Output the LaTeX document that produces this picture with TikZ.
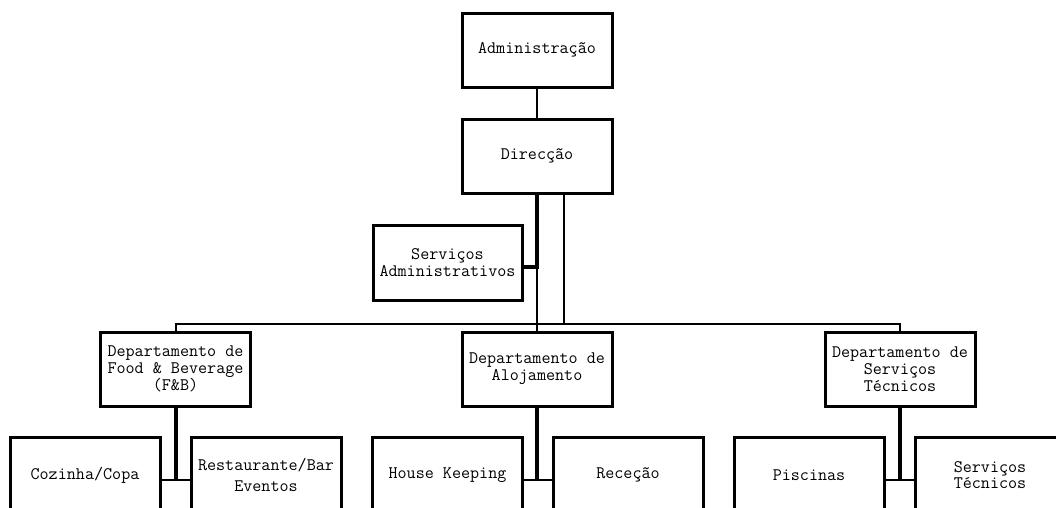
\documentclass[tikz,border=0pt]{standalone}
\usepackage{fontspec}
\begin{document}
\begin{tikzpicture}[x=0.75pt,y=-0.75pt,
  box/.style={draw=black,line width=2.25pt,fill=white,minimum width=112.5pt,minimum height=55.5pt,inner sep=0pt,align=center,font=\ttfamily\fontsize{13.2}{12.6}\selectfont},
  cbox/.style={box,minimum height=57pt},
  thinln/.style={line width=1.5pt},
  thickln/.style={line width=3pt}]
\useasboundingbox (0,0) rectangle (1056,507);
\clip (0,0) rectangle (1056,507);
\node[box] (adm) at (537,50) {Administração};
\node[box] (dir) at (537,156) {Direcção};
\node[box,minimum width=111.75pt,minimum height=56.25pt] (sa) at (447.5,262.5) {Serviços\\Administrativos};
\node[box] (fb) at (175.5,369) {Departamento de\\Food \& Beverage\\(F\&B)};
\node[box] (aloj) at (537,369) {Departamento de\\Alojamento};
\node[box] (st) at (900,369) {Departamento de\\Serviços\\Técnicos};
\node[cbox] (coz) at (85,475) {Cozinha/Copa};
\node[cbox] (rest) at (266,475) {Restaurante/Bar\\[3pt]Eventos};
\node[cbox] (hk) at (447.5,475) {House Keeping};
\node[cbox] (rec) at (628,475) {Receção};
\node[cbox] (pis) at (809,475) {Piscinas};
\node[cbox] (stc) at (990,475) {Serviços\\Técnicos};
\coordinate (busy) at (0,324);
\coordinate (say) at (0,267);
\coordinate (jy) at (0,480);
\coordinate (d2) at (564,0);
% top
\draw[thinln] (adm.south) -- (dir.north);
\draw[thickln] (dir.south) -- (dir.south |- say) -- (sa.east |- say);
\draw[thinln] (dir.south |- say) -- (aloj.north);
\draw[thinln] (d2 |- dir.south) -- (d2 |- busy);
\draw[thinln] (fb.north) -- (fb.north |- busy) -- (st.north |- busy) -- (st.north);
% children
\draw[thickln] (fb.south) -- (fb.south |- jy);
\draw[thinln] (coz.east |- jy) -- (rest.west |- jy);
\draw[thickln] (aloj.south) -- (aloj.south |- jy);
\draw[thinln] (hk.east |- jy) -- (rec.west |- jy);
\draw[thickln] (st.south) -- (st.south |- jy);
\draw[thinln] (pis.east |- jy) -- (stc.west |- jy);
\end{tikzpicture}
\end{document}
